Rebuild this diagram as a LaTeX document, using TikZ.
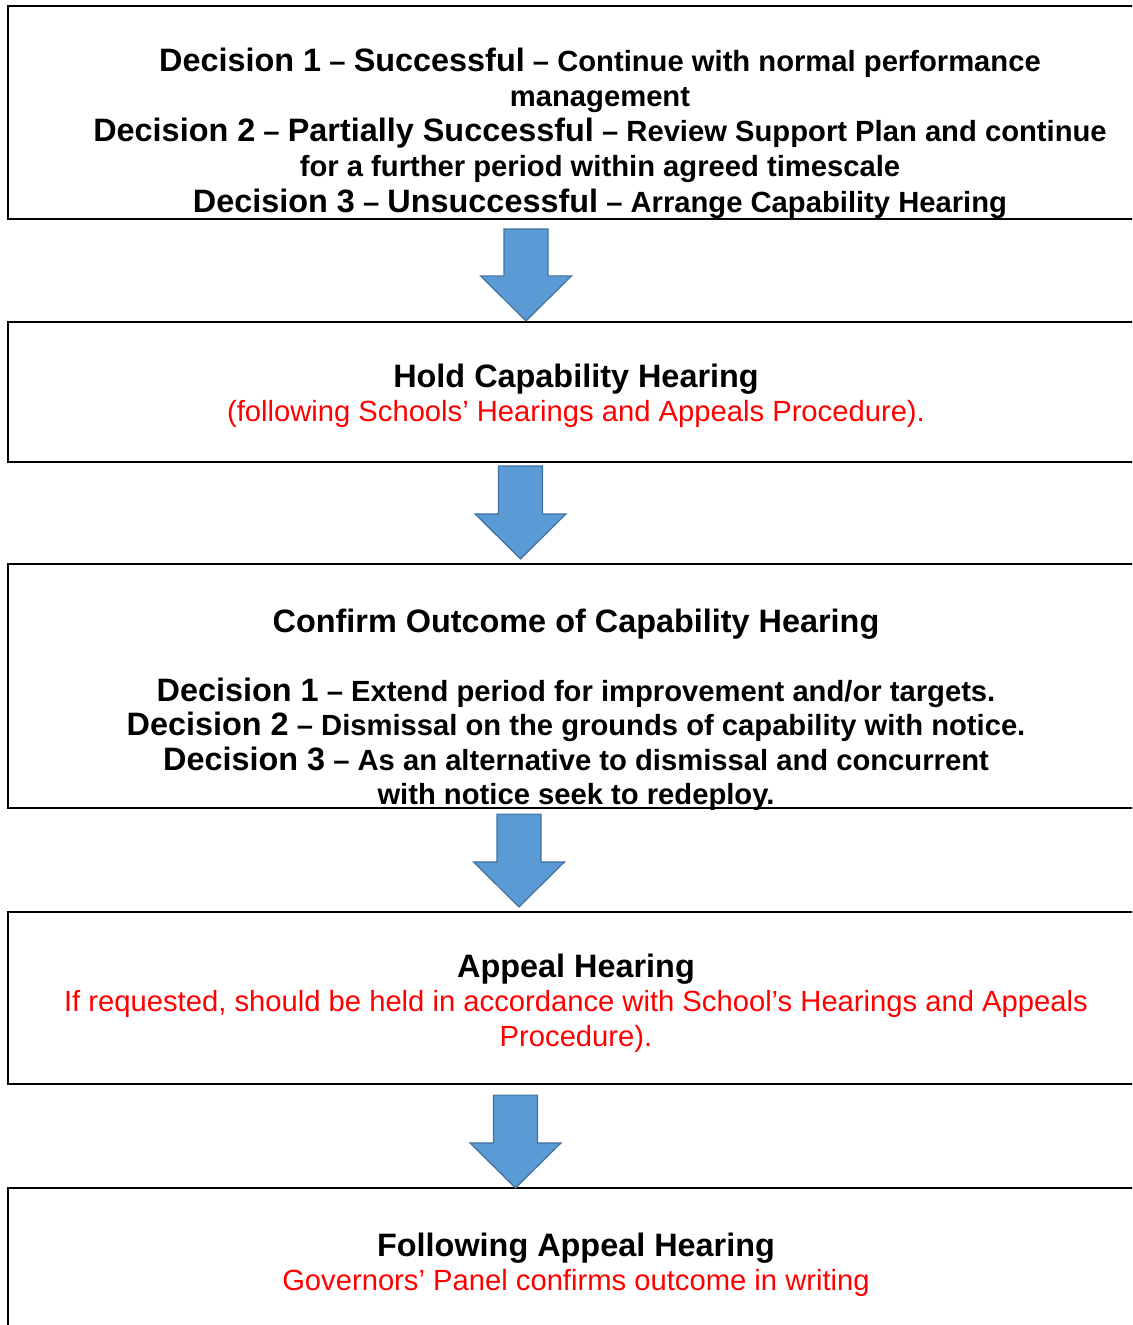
\documentclass[tikz,border=0pt]{standalone}
\usepackage{fontspec}
\setmainfont{Liberation Sans}
\usepackage{tikz}
\usetikzlibrary{calc}
\definecolor{arrowfill}{HTML}{5B9BD5}
\definecolor{arrowedge}{HTML}{41719C}
\definecolor{notered}{HTML}{FF0000}
\newcommand{\hd}[1]{{\fontsize{16.2}{17.25}\selectfont #1}}
\newcommand{\rednote}[1]{{\color{notered}\mdseries\fontsize{14.6}{17.25}\selectfont #1}}
% block arrow from its top edge (#1) down to its tip (#2)
\newcommand{\blockarrow}[2]{%
  \filldraw[blockarrow] let \p1=(#1), \p2=(#2) in
    (\x2-11pt,\y1) -- (\x2+11pt,\y1) -- (\x2+11pt,\y2+22.5pt)
    -- (\x2+22.75pt,\y2+22.5pt) -- (\x2,\y2) -- (\x2-22.75pt,\y2+22.5pt)
    -- (\x2-11pt,\y2+22.5pt) -- cycle;}

\begin{document}
\begin{tikzpicture}[x=0.5pt,y=-0.5pt,
  stagebox/.style={draw,line width=1.1pt,minimum width=568pt,inner sep=0pt},
  stagetext/.style={align=center,inner sep=0pt,
    font=\bfseries\fontsize{14.6}{17.25}\selectfont},
  blockarrow/.style={fill=arrowfill,draw=arrowedge,line width=0.6pt}
]
\useasboundingbox (0,0) rectangle (1132,1325);
\clip (0,0) rectangle (1132,1325);

\node[stagebox,minimum height=106.5pt] (b1) at (576,112.5) {};
\node[stagebox,minimum height=70pt] (b2) at (576,392) {};
\node[stagebox,minimum height=122pt] (b3) at (576,686) {};
\node[stagebox,minimum height=86pt] (b4) at (576,998) {};
\node[stagebox,minimum height=76pt] (b5) at (576,1264) {};

\node[stagetext,font=\bfseries\fontsize{14.6}{17.6}\selectfont] (t1) at (600,133)
  {\hd{Decision 1} – \hd{Successful} – Continue with normal performance\\
  management\\
  \hd{Decision 2} – \hd{Partially Successful} – Review Support Plan and continue\\
  for a further period within agreed timescale\\
  \hd{Decision 3} – \hd{Unsuccessful} – Arrange Capability Hearing};
\node[stagetext] (t2) at (576,396) {\hd{Hold Capability Hearing}\\
  \rednote{(following Schools’ Hearings and Appeals Procedure).}};
\node[stagetext] (t3) at (576,710) {\hd{Confirm Outcome of Capability Hearing}\\[17.25pt]
  \hd{Decision 1} – Extend period for improvement and/or targets.\\
  \hd{Decision 2} – Dismissal on the grounds of capability with notice.\\
  \hd{Decision 3} – As an alternative to dismissal and concurrent\\
  with notice seek to redeploy.};
\node[stagetext] (t4) at (576,1003) {\hd{Appeal Hearing}\\
  \rednote{If requested, should be held in accordance with School’s Hearings and Appeals}\\
  \rednote{Procedure).}};
\node[stagetext] (t5) at (576,1265) {\hd{Following Appeal Hearing}\\
  \rednote{Governors’ Panel confirms outcome in writing}};

\blockarrow{$(b1.south)+(-50,9)$}{$(b2.north)+(-50,0)$}
\blockarrow{$(b2.south)+(-55.5,3)$}{$(b3.north)+(-55.5,-4)$}
\blockarrow{$(b3.south)+(-57,5)$}{$(b4.north)+(-57,-4)$}
\blockarrow{$(b4.south)+(-60.5,10)$}{$(b5.north)+(-60.5,1)$}
\end{tikzpicture}
\end{document}
